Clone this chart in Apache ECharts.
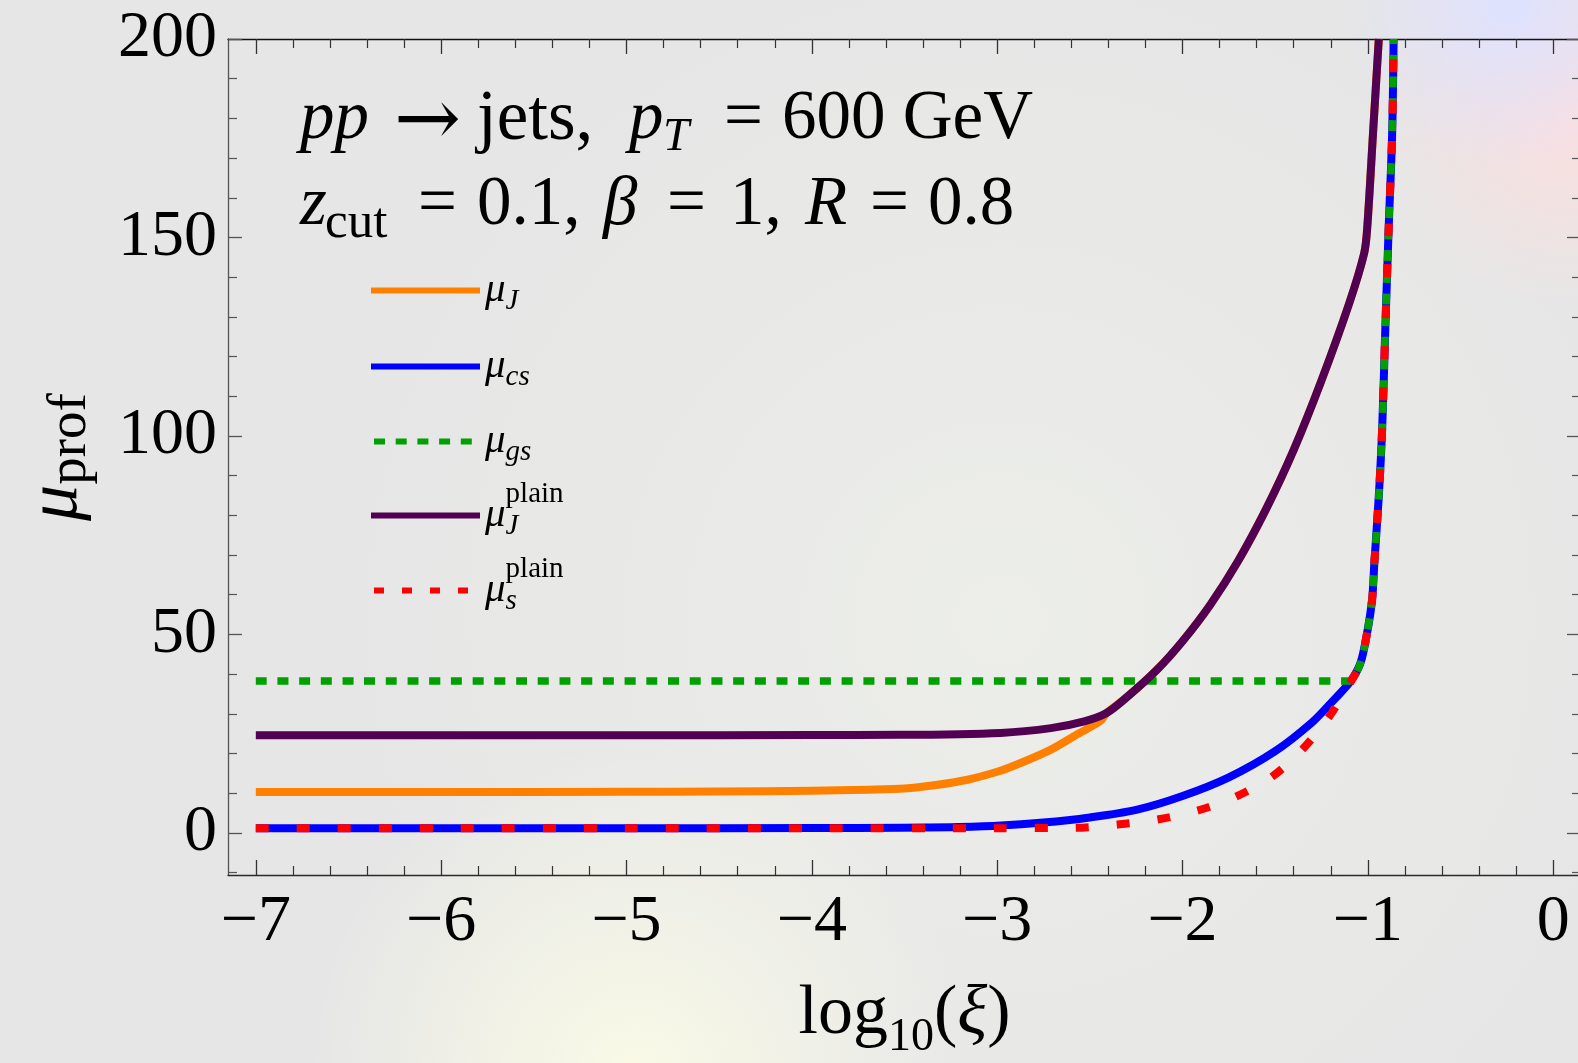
<!DOCTYPE html>
<html>
<head>
<meta charset="utf-8">
<script src="https://cdn.jsdelivr.net/npm/echarts@6/dist/echarts.min.js"></script>
<style>html,body{margin:0;padding:0;background:#e6e6e6;}#c{width:1578px;height:1063px;}</style>
</head>
<body>
<div id="c"></div>
<script>
// ---- data ----
const xMajorTicks = [-7, -6, -5, -4, -3, -2, -1, 0];
const xMinorTicks = [-6.8, -6.6, -6.4, -6.2, -5.8, -5.6, -5.4, -5.2, -4.8, -4.6, -4.4, -4.2,
  -3.8, -3.6, -3.4, -3.2, -2.8, -2.6, -2.4, -2.2, -1.8, -1.6, -1.4, -1.2, -0.8, -0.6, -0.4, -0.2];
const yMajorTicks = [0, 50, 100, 150, 200];
const yMinorTicks = [-10, 10, 20, 30, 40, 60, 70, 80, 90, 110, 120, 130, 140, 160, 170, 180, 190];

const muJ = [[-7, 10.3], [-6, 10.3], [-5, 10.35], [-4.5, 10.45], [-4, 10.6], [-3.7, 10.9], [-3.5, 11.2],
  [-3.34, 12.0], [-3.16, 13.4], [-3.0, 15.4], [-2.89, 17.3], [-2.71, 21.0], [-2.57, 24.8], [-2.44, 28.3],
  [-2.41, 30.2], [-2.3, 34.2], [-2.14, 41.0], [-2.0, 48.3], [-1.85, 57.5], [-1.7, 68.5], [-1.55, 81.5],
  [-1.4, 96.5], [-1.25, 114], [-1.1, 133.5], [-1.02, 146], [-1.004, 152], [-0.972, 176.3], [-0.941, 200]];
const muCs = [[-7, 1.2], [-6, 1.2], [-5, 1.2], [-4, 1.22], [-3.52, 1.3], [-3.25, 1.45], [-3.0, 1.8],
  [-2.75, 2.6], [-2.5, 3.9], [-2.25, 5.8], [-2.0, 9.3], [-1.75, 14.0], [-1.5, 20.6], [-1.3, 27.9],
  [-1.2, 32.7], [-1.094, 38.2], [-1.04, 42.8], [-1.004, 50.4], [-0.977, 58.8], [-0.965, 68], [-0.941, 84.8],
  [-0.923, 101.6], [-0.906, 126.8], [-0.888, 152], [-0.869, 176], [-0.861, 200]];
const muGs = [[-7, 38.3], [-1.1, 38.3], [-1.094, 38.3], [-1.04, 42.8], [-1.004, 50.4], [-0.977, 58.8],
  [-0.965, 68], [-0.941, 84.8], [-0.923, 101.6], [-0.906, 126.8], [-0.888, 152], [-0.869, 176], [-0.861, 200]];
const muJPlain = [[-7, 24.6], [-6, 24.6], [-5, 24.6], [-4, 24.65], [-3.52, 24.7], [-2.98, 25.2], [-2.71, 26.4],
  [-2.53, 28.1], [-2.41, 30.2], [-2.3, 34.2], [-2.14, 41.0], [-2.0, 48.3], [-1.85, 57.5], [-1.7, 68.5],
  [-1.55, 81.5], [-1.4, 96.5], [-1.25, 114], [-1.1, 133.5], [-1.02, 146], [-1.004, 152], [-0.972, 176.3],
  [-0.941, 200]];
const muSPlain = [[-7, 1.2], [-6, 1.2], [-5, 1.2], [-4, 1.2], [-3, 1.2], [-2.58, 1.3], [-2.35, 2.1],
  [-2.12, 3.5], [-1.90, 5.9], [-1.70, 9.4], [-1.51, 14.4], [-1.35, 21.2], [-1.21, 29.2], [-1.094, 37.9],
  [-1.04, 42.8], [-1.004, 50.4], [-0.977, 58.8], [-0.965, 68], [-0.941, 84.8], [-0.923, 101.6],
  [-0.906, 126.8], [-0.888, 152], [-0.869, 176], [-0.861, 200]];

const seriesNames = ['mu_J', 'mu_cs', 'mu_gs', 'mu_J_plain', 'mu_s_plain'];
const legendLabels = {
  'mu_J': '{mu|μ}{sub|J}',
  'mu_cs': '{mu|μ}{sub|cs}',
  'mu_gs': '{mu|μ}{sub|gs}',
  'mu_J_plain': '{mu|μ}{subz|J}{sup|plain}',
  'mu_s_plain': '{mu|μ}{subz|s}{sup|plain}'
};
// ---- styling ----
const SERIF = 'Liberation Serif';
const colors = ['#ff8000', '#0000ff', '#00a000', '#520052', '#ff0000'];

const chart = echarts.init(document.getElementById('c'), null, {renderer: 'canvas'});

const minus = v => (v < 0 ? '\u2212' + (-v) : String(v));
const axisBase = {type: 'value', min: -7.15, max: 0.15, splitLine: {show: false}};
const yBase = {type: 'value', min: -10.6, max: 200, splitLine: {show: false}};

const legendRich = {
  mu: {fontFamily: SERIF, fontStyle: 'italic', fontSize: 41, color: '#000'},
  sub: {fontFamily: SERIF, fontStyle: 'italic', fontSize: 29, padding: [22, 0, 0, 0], color: '#000'},
  subz: {fontFamily: SERIF, fontStyle: 'italic', fontSize: 29, padding: [22, 0, 0, 0], width: 0, color: '#000'},
  sup: {fontFamily: SERIF, fontSize: 29, padding: [0, 0, 42, 0], color: '#000'}
};
const legendTops = [288 - 18, 364 - 18, 439 - 18, 513 - 33, 588 - 33];
const legendDash = ['solid', 'solid', [11, 10.7], 'solid', [10, 18]];
const legends = seriesNames.map((n, i) => ({
  data: [n], orient: 'vertical', left: 368, top: legendTops[i], padding: 0,
  itemWidth: 109, itemHeight: 6, selectedMode: false,
  itemStyle: {color: 'rgba(0,0,0,0)', borderWidth: 0, opacity: 0},
  lineStyle: {width: 6, type: legendDash[i], dashOffset: -3, color: colors[i]},
  formatter: name => legendLabels[name],
  textStyle: {rich: legendRich, fontFamily: SERIF, fontSize: 41, color: '#000'}
}));

const dataSets = [muJ, muCs, muGs, muJPlain, muSPlain];
const lineWidths = [8, 8, 7.5, 8, 8];
const dashes = ['solid', 'solid', [11, 10.7], 'solid', [13, 28]];
const series = seriesNames.map((n, i) => ({
  name: n, type: 'line', data: dataSets[i], symbol: 'none', showSymbol: false,
  smooth: 0.3, clip: true, z: 2 + i,
  lineStyle: {color: colors[i], width: lineWidths[i], type: dashes[i], cap: 'butt', join: 'round'},
  itemStyle: {color: colors[i]},
  emphasis: {disabled: true}
}));

const tok = (extra) => Object.assign({fontFamily: SERIF, fontSize: 69, color: '#000'}, extra);
const annoRich = {
  pp: tok({fontStyle: 'italic', width: 94}),
  arr: tok({fontFamily: 'DejaVu Serif', fontSize: 80, width: 83, padding: [8, 0, 0, 0]}),
  jets: tok({fontSize: 71, width: 152}),
  p: tok({fontStyle: 'italic', width: 34}),
  T: tok({fontStyle: 'italic', fontSize: 47, padding: [36, 0, 0, 0], width: 61}),
  eq1: tok({width: 58}),
  val: tok({}),
  z: tok({fontStyle: 'italic', width: 25}),
  cut: tok({fontSize: 51, padding: [36, 0, 0, 0], width: 93}),
  eqA: tok({width: 59}),
  v1: tok({width: 126}),
  beta: tok({fontStyle: 'italic', width: 64}),
  eqB: tok({width: 63}),
  v2: tok({width: 75}),
  R: tok({fontStyle: 'italic', width: 65}),
  eqC: tok({width: 58})
};

const option = {
  animation: false,
  backgroundColor: '#e6e6e6',
  grid: {left: 228, top: 39, width: 1353, height: 836, containLabel: false, outerBoundsMode: 'none'},
  legend: legends,
  xAxis: [
    Object.assign({}, axisBase, {
      position: 'bottom',
      name: '{r|log}{s|10}{r|(}{i|ξ}{r|)}', nameLocation: 'middle', nameGap: 94,
      nameTextStyle: {rich: {
        r: {fontFamily: SERIF, fontSize: 70, color: '#000'},
        i: {fontFamily: SERIF, fontStyle: 'italic', fontSize: 70, color: '#000'},
        s: {fontFamily: SERIF, fontSize: 46, padding: [46, 0, 0, 0], color: '#000'}
      }},
      axisLine: {show: true, onZero: false, lineStyle: {color: '#2a2a2a', width: 1.3}},
      axisTick: {show: true, inside: true, length: 15, customValues: xMajorTicks, lineStyle: {color: '#333', width: 1.3}},
      axisLabel: {show: true, customValues: xMajorTicks, formatter: minus, margin: 15,
        fontFamily: SERIF, fontSize: 66, color: '#000'}
    }),
    Object.assign({}, axisBase, {
      position: 'bottom',
      axisLine: {show: false, onZero: false},
      axisTick: {show: true, inside: true, length: 9, customValues: xMinorTicks, lineStyle: {color: '#333', width: 1.2}},
      axisLabel: {show: false}
    }),
    Object.assign({}, axisBase, {
      position: 'top',
      axisLine: {show: true, onZero: false, lineStyle: {color: '#111', width: 1.3}},
      axisTick: {show: true, inside: true, length: 15, customValues: xMajorTicks, lineStyle: {color: '#333', width: 1.3}},
      axisLabel: {show: false}
    }),
    Object.assign({}, axisBase, {
      position: 'top',
      axisLine: {show: false, onZero: false},
      axisTick: {show: true, inside: true, length: 9, customValues: xMinorTicks, lineStyle: {color: '#333', width: 1.2}},
      axisLabel: {show: false}
    })
  ],
  yAxis: [
    Object.assign({}, yBase, {
      position: 'left',
      name: '{mu|μ}{s|prof}', nameLocation: 'middle', nameGap: 130, nameRotate: 90,
      nameTextStyle: {rich: {
        mu: {fontFamily: SERIF, fontStyle: 'italic', fontSize: 72, color: '#000'},
        s: {fontFamily: SERIF, fontSize: 55, padding: [27, 0, 0, 0], color: '#000'}
      }},
      axisLine: {show: true, onZero: false, lineStyle: {color: '#555', width: 1.3}},
      axisTick: {show: true, inside: true, length: 14, customValues: yMajorTicks, lineStyle: {color: '#555', width: 1.3}},
      axisLabel: {show: true, customValues: yMajorTicks, margin: 11, fontFamily: SERIF, fontSize: 66, color: '#000'}
    }),
    Object.assign({}, yBase, {
      position: 'left',
      axisLine: {show: false, onZero: false},
      axisTick: {show: true, inside: true, length: 9, customValues: yMinorTicks, lineStyle: {color: '#555', width: 1.2}},
      axisLabel: {show: false}
    }),
    Object.assign({}, yBase, {
      position: 'right',
      axisLine: {show: true, onZero: false, lineStyle: {color: '#555', width: 1.3}},
      axisTick: {show: true, inside: true, length: 14, customValues: yMajorTicks, lineStyle: {color: '#555', width: 1.3}},
      axisLabel: {show: false}
    }),
    Object.assign({}, yBase, {
      position: 'right',
      axisLine: {show: false, onZero: false},
      axisTick: {show: true, inside: true, length: 9, customValues: yMinorTicks, lineStyle: {color: '#555', width: 1.2}},
      axisLabel: {show: false}
    })
  ],
  graphic: [
    {type: 'circle', z: -10, silent: true, shape: {cx: 640, cy: 1070, r: 330},
      style: {fill: {type: 'radial', x: 0.5, y: 0.5, r: 0.5, colorStops: [
        {offset: 0, color: 'rgba(252,252,230,0.95)'}, {offset: 1, color: 'rgba(252,252,230,0)'}]}}},
    {type: 'circle', z: -10, silent: true, shape: {cx: 1000, cy: 620, r: 650},
      style: {fill: {type: 'radial', x: 0.5, y: 0.5, r: 0.5, colorStops: [
        {offset: 0, color: 'rgba(238,240,234,0.8)'}, {offset: 1, color: 'rgba(238,240,234,0)'}]}}},
    {type: 'circle', z: -10, silent: true, shape: {cx: 1570, cy: 110, r: 200},
      style: {fill: {type: 'radial', x: 0.5, y: 0.5, r: 0.5, colorStops: [
        {offset: 0, color: 'rgba(252,222,222,1)'}, {offset: 1, color: 'rgba(252,222,222,0)'}]}}},
    {type: 'circle', z: -10, silent: true, shape: {cx: 1510, cy: 5, r: 170},
      style: {fill: {type: 'radial', x: 0.5, y: 0.5, r: 0.5, colorStops: [
        {offset: 0, color: 'rgba(222,226,255,1)'}, {offset: 1, color: 'rgba(222,226,255,0)'}]}}},
    {type: 'text', z: 100, x: 300, y: 120, silent: true, style: {
      text: '{pp|pp}{arr|→}{jets|jets,}{p|p}{T|T}{eq1|=}{val|600 GeV}',
      verticalAlign: 'middle', fill: '#000', rich: annoRich}},
    {type: 'text', z: 100, x: 300, y: 206, silent: true, style: {
      text: '{z|z}{cut|cut}{eqA|=}{v1|0.1,}{beta|β}{eqB|=}{v2|1,}{R|R}{eqC|=}{val|0.8}',
      verticalAlign: 'middle', fill: '#000', rich: annoRich}}
  ],
  series: series
};
chart.setOption(option);
</script>
</body>
</html>
